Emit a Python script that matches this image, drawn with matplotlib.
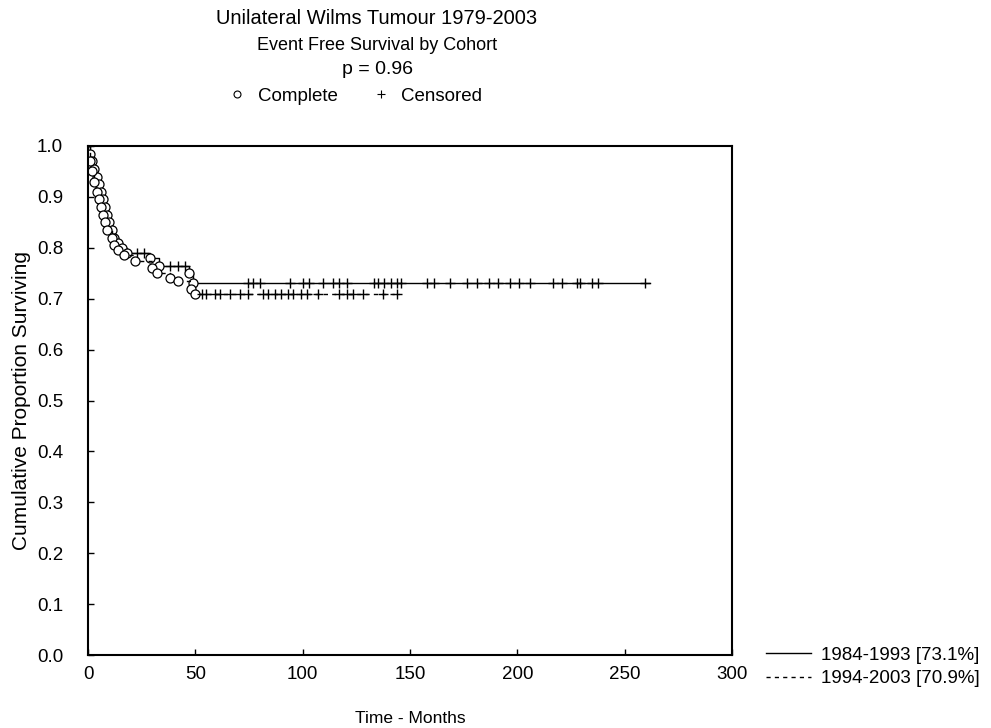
import numpy as np
import matplotlib
matplotlib.use("Agg")
import matplotlib.pyplot as plt
from matplotlib.lines import Line2D

plt.rcParams['font.family'] = ['Liberation Sans', 'DejaVu Sans']

# ---- data ----
c1_label = "1984-1993 [73.1%]"
c1_event_t = [0, 1, 2, 3, 4, 5, 6, 7, 8, 9, 10, 11, 12, 14, 16, 18, 29, 33, 47, 49]
c1_surv    = [1.0, 0.985, 0.97, 0.955, 0.94, 0.925, 0.91, 0.895, 0.88, 0.865, 0.85,
              0.835, 0.82, 0.81, 0.80, 0.79, 0.78, 0.765, 0.75, 0.731]
c1_end = 262
c1_cens_t = [23, 26, 38, 42, 45, 74.5, 77, 80, 94, 100, 103, 109.5, 114, 117, 120.5,
             133, 135, 138, 141, 144, 146, 158, 161, 168.5, 176.5, 181, 187, 191,
             196.5, 201, 206, 216.5, 221, 228, 229, 235, 237.5, 259.5]

c2_label = "1994-2003 [70.9%]"
c2_event_t = [0, 1, 2, 3, 4, 5, 6, 7, 8, 9, 11, 12, 14, 17, 22, 30, 32, 38, 42, 48, 50]
c2_surv    = [1.0, 0.97, 0.95, 0.93, 0.91, 0.895, 0.88, 0.865, 0.85, 0.835, 0.82,
              0.805, 0.795, 0.785, 0.775, 0.76, 0.75, 0.74, 0.735, 0.72, 0.709]
c2_end = 145
c2_cens_t = [53, 55, 59, 61.5, 66, 71, 74.5, 81.5, 84, 87, 90, 93, 95.5, 99, 102, 107,
             117, 120.5, 123.5, 128, 137.5, 144]

x_ticks = [0, 50, 100, 150, 200, 250, 300]
y_ticks = [0.0, 0.1, 0.2, 0.3, 0.4, 0.5, 0.6, 0.7, 0.8, 0.9, 1.0]

fig = plt.figure(figsize=(9.91, 7.28), dpi=100)
ax = fig.add_axes([88/991, 1-655/728, (732-88)/991, (655-146)/728])


def draw(ev_t, surv, end, cens_t, ls):
    t = list(ev_t) + [end]
    s = list(surv) + [surv[-1]]
    ax.step(t, s, where='post', color='black', lw=1.0, ls=ls)
    ax.plot(ev_t[1:], surv[1:], ls='none', marker='o', ms=6.5, mfc='white',
            mec='black', mew=0.9)
    idx = np.searchsorted(ev_t, cens_t, side='right') - 1
    cs = np.asarray(surv)[idx]
    ax.plot(cens_t, cs, ls='none', marker='+', ms=7, mec='black', mew=1.0)


draw(c1_event_t, c1_surv, c1_end, c1_cens_t, '-')
draw(c2_event_t, c2_surv, c2_end, c2_cens_t, (0, (3, 3)))

ax.set_xlim(0, 300)
ax.set_ylim(0, 1.0)
ax.set_xticks(x_ticks)
ax.set_yticks(y_ticks)
ax.set_xticklabels([str(v) for v in x_ticks])
ax.set_yticklabels([f"{v:.1f}" for v in y_ticks])
ax.tick_params(direction='in', length=4, width=1, labelsize=13.5)
ax.tick_params(axis='x', pad=8)
ax.tick_params(axis='y', pad=18)
for sp in ax.spines.values():
    sp.set_linewidth(1.5)

ax.set_xlabel("Time - Months", fontsize=12.5, labelpad=20)
ax.set_ylabel("Cumulative Proportion Surviving", fontsize=15, labelpad=4)

cx = 377 / 991
fig.text(cx, 1 - 18/728, "Unilateral Wilms Tumour 1979-2003", ha='center', va='center', fontsize=14.5)
fig.text(cx, 1 - 45/728, "Event Free Survival by Cohort", ha='center', va='center', fontsize=13)
fig.text(cx, 1 - 70/728, "p = 0.96", ha='center', va='center', fontsize=14)

h1 = Line2D([], [], ls='none', marker='o', ms=5, mfc='white', mec='black', mew=0.8)
h2 = Line2D([], [], ls='none', marker='+', ms=6, mec='black', mew=0.8)
fig.legend([h1, h2], ["Complete", "Censored"], loc='center', bbox_to_anchor=(355/991, 1 - 96/728),
           ncol=2, frameon=False, fontsize=13.5, handlelength=1.0, columnspacing=1.8,
           handletextpad=0.6)

l1 = Line2D([], [], color='black', lw=1.0, ls='-')
l2 = Line2D([], [], color='black', lw=1.0, ls=(0, (3, 3)))
fig.legend([l1, l2], [c1_label, c2_label], loc='center left',
           bbox_to_anchor=(757/991, 1 - 667/728), frameon=False, fontsize=13.5,
           handlelength=2.4, handletextpad=0.5, labelspacing=0.35, borderpad=0)

fig.savefig("out.png", dpi=100)
